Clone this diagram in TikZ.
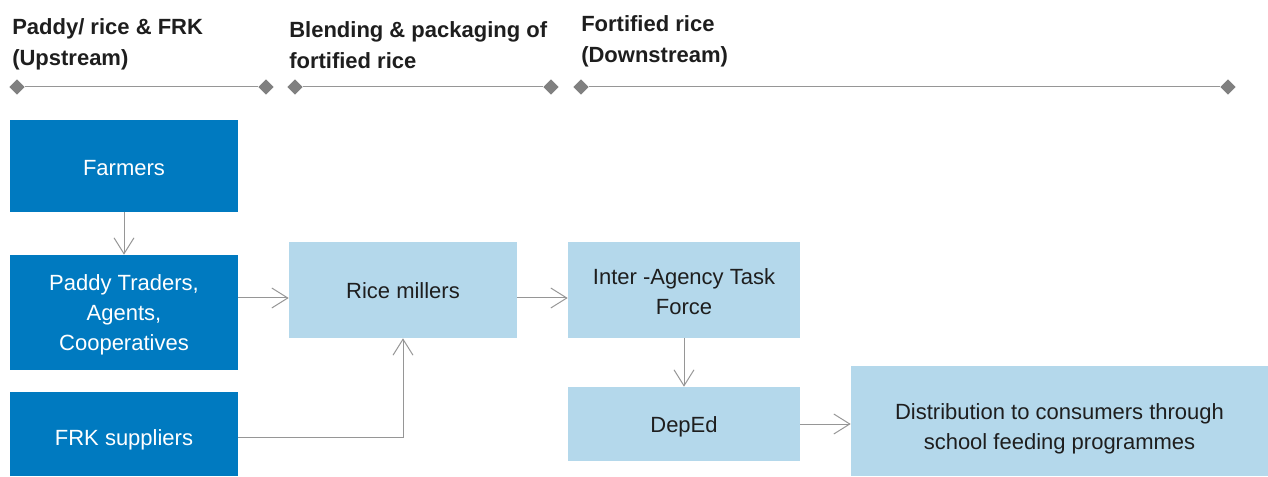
\documentclass[tikz,border=0pt]{standalone}
\usepackage{fontspec}
\setmainfont{Liberation Sans}
\usetikzlibrary{arrows.meta,shapes.geometric}

\definecolor{darkblue}{RGB}{0,122,192}
\definecolor{lightblue}{RGB}{180,216,235}
\definecolor{textdark}{RGB}{30,30,30}
\definecolor{linegray}{RGB}{150,150,150}
\definecolor{markgray}{RGB}{128,128,128}

\tikzset{
  actor/.style={fill=darkblue, text=white, inner sep=0pt, align=center,
    font=\fontsize{16.5}{22.5}\selectfont},
  stage/.style={fill=lightblue, text=textdark, inner sep=0pt, align=center,
    font=\fontsize{16.5}{22.5}\selectfont},
  heading/.style={anchor=base west, inner sep=0pt, align=left, text=textdark,
    font=\bfseries\fontsize{16.5}{23.25}\selectfont},
  tick/.style={diamond, fill=markgray, inner sep=0pt, minimum size=11.5pt},
  flow/.style={draw=linegray, line width=0.75pt,
    -{Straight Barb[length=12pt, width=15pt, line width=0.75pt]}},
}

\begin{document}
\begin{tikzpicture}[x=0.75pt, y=-0.75pt]

	\useasboundingbox (0,0) rectangle (1268,477);

	% headings (anchored at the second line)
	\node[heading] (h1) at (12,66) {Paddy/ rice \& FRK\\(Upstream)};
	\node[heading] (h2) at (289,69) {Blending \& packaging of\\fortified rice};
	\node[heading] (h3) at (581,63) {Fortified rice\\(Downstream)};

	% timeline
	\node[tick] (t1a) at (17,87) {};
	\node[tick] (t1b) at (266,87) {};
	\node[tick] (t2a) at (295,87) {};
	\node[tick] (t2b) at (551,87) {};
	\node[tick] (t3a) at (581,87) {};
	\node[tick] (t3b) at (1228,87) {};
	\draw[linegray, line width=0.75pt] (t1a) -- (t1b);
	\draw[linegray, line width=0.75pt] (t2a) -- (t2b);
	\draw[linegray, line width=0.75pt] (t3a) -- (t3b);

	% upstream actors
	\node[actor, minimum width=171pt, minimum height=69pt] (farmers) at (124,166)
	  {\rule{0pt}{14pt}Farmers};
	\node[actor, minimum width=171pt, minimum height=86.25pt] (traders) at (124,312.5)
	  {\rule{0pt}{15pt}Paddy Traders,\\Agents,\\Cooperatives};
	\node[actor, minimum width=171pt, minimum height=63pt] (frk) at (124,434)
	  {\rule{0pt}{21pt}FRK suppliers};

	% blending and downstream
	\node[stage, minimum width=171pt, minimum height=72pt] (millers) at (403,290)
	  {\rule{0pt}{13pt}Rice millers};
	\node[stage, minimum width=174pt, minimum height=72pt] (iatf) at (684,290)
	  {\rule{0pt}{15pt}Inter -Agency Task\\Force};
	\node[stage, minimum width=174pt, minimum height=55.5pt] (deped) at (684,424)
	  {\rule{0pt}{16pt}DepEd};
	\node[stage, minimum width=312.75pt, minimum height=82.5pt] (distrib) at (1059.5,421)
	  {\rule{0pt}{24pt}Distribution to consumers through\\school feeding programmes};

	% flows
	\draw[flow] (farmers) -- (traders);
	\draw[flow] (traders.east |- 0,298) -- (millers.west |- 0,298);
	\draw[flow] (frk.east |- 0,437) -| (millers.south);
	\draw[flow] (millers.east |- 0,298) -- (iatf.west |- 0,298);
	\draw[flow] (iatf) -- (deped);
	\draw[flow] (deped) -- (deped -| distrib.west);

\end{tikzpicture}
\end{document}
